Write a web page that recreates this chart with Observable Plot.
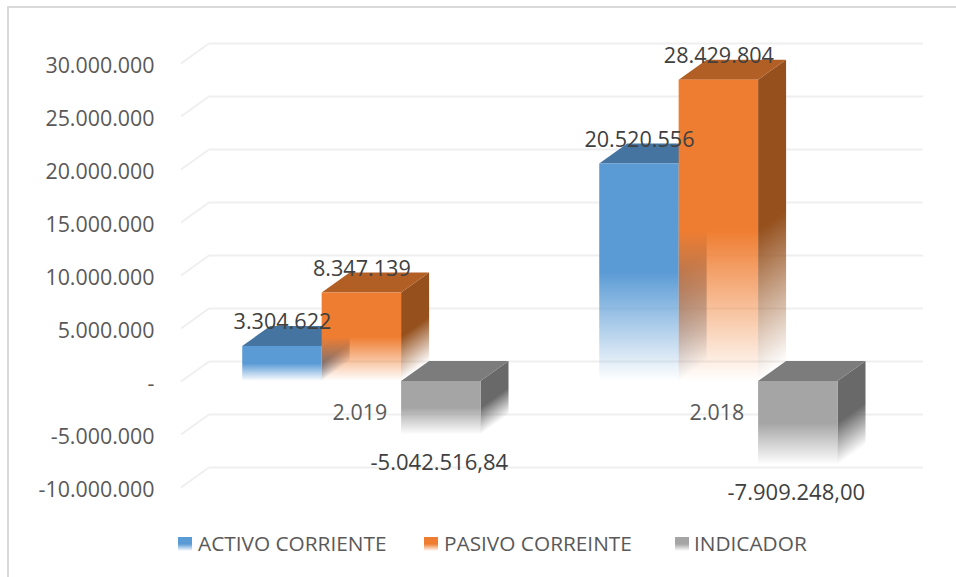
<!DOCTYPE html>
<html>
<head>
<meta charset="utf-8">
<script src="https://cdn.jsdelivr.net/npm/d3@7"></script>
<script src="https://cdn.jsdelivr.net/npm/@observablehq/plot@0.6"></script>
<style>
  html, body { margin: 0; background: #fff; }
  #frame { position: relative; width: 956px; height: 577px; overflow: hidden; font-family: "Open Sans", sans-serif; }
  #border { position: absolute; left: 7px; top: 6px; width: 960px; height: 600px; border: 2px solid #d9d9d9; box-sizing: border-box; }
  #chart { position: absolute; left: 0; top: 0; }
  #chart svg { overflow: visible; }
  #legend { position: absolute; left: 0; top: 530px; height: 27px; display: block; color: #595959; font-size: 20.8px; line-height: 27px; white-space: nowrap; }
  #legend span.item { position: absolute; top: 0; }
  #legend i { position: absolute; top: 7px; width: 14px; height: 14px; }
</style>
</head>
<body>
<div id="frame">
  <div id="border"></div>
  <div id="chart"></div>
  <div id="legend"></div>
</div>
<script>
const years = ["2.019", "2.018"];
const seriesNames = ["ACTIVO CORRIENTE", "PASIVO CORREINTE", "INDICADOR"];
const activo = [3304622, 20520556];
const pasivo = [8347139, 28429804];
const indicador = [-5042516.84, -7909248.0];
const yTicks = [-10000000, -5000000, 0, 5000000, 10000000, 15000000, 20000000, 25000000, 30000000];
const activoLabels = ["3.304.622", "20.520.556"];
const pasivoLabels = ["8.347.139", "28.429.804"];
const indicadorLabels = ["-5.042.516,84", "-7.909.248,00"];
const frontColors = ["#5b9bd5", "#ef7d31", "#a5a5a5"];
const topColors = ["#44749f", "#b25f26", "#7c7c7c"];
const sideColors = ["#3d6a95", "#95501d", "#696969"];

const DX = 28, DY = 20;
const BAR_START = 0.1715, BAR_WIDTH = 0.2225;

const rows = years.flatMap((year, g) => [
  {year, g, s: 0, series: seriesNames[0], value: activo[g], label: activoLabels[g]},
  {year, g, s: 1, series: seriesNames[1], value: pasivo[g], label: pasivoLabels[g]},
  {year, g, s: 2, series: seriesNames[2], value: indicador[g], label: indicadorLabels[g]}
]);
const left = d => d.g + BAR_START + d.s * BAR_WIDTH;
const right = d => left(d) + BAR_WIDTH;
const centre = d => left(d) + BAR_WIDTH / 2;

const fmtTick = v => v === 0 ? "-" : (v < 0 ? "-" : "") + d3.format(",")(Math.abs(v)).replace(/,/g, ".");

function gradient(parent, id, color) {
  const g = parent.append("linearGradient").attr("id", id).attr("x1", 0).attr("y1", 0).attr("x2", 0).attr("y2", 1);
  g.append("stop").attr("offset", "50%").attr("stop-color", color).attr("stop-opacity", 1);
  g.append("stop").attr("offset", "100%").attr("stop-color", color).attr("stop-opacity", 0);
}

function box3d(index, scales, values, dimensions, context, next) {
  const node = next(index, scales, values, dimensions, context);
  const root = d3.select(node);
  const defs = root.insert("defs", ":first-child");
  seriesNames.forEach((_, s) => {
    gradient(defs, `front${s}`, frontColors[s]);
    gradient(defs, `side${s}`, sideColors[s]);
  });
  root.selectAll("rect").each(function(_, k) {
    const s = rows[index[k]].s;
    const x = +this.getAttribute("x"), y = +this.getAttribute("y");
    const w = +this.getAttribute("width"), h = +this.getAttribute("height");
    const svgNS = "http://www.w3.org/2000/svg";
    const side = document.createElementNS(svgNS, "rect");
    side.setAttribute("x", 0); side.setAttribute("y", 0);
    side.setAttribute("width", DX); side.setAttribute("height", h);
    side.setAttribute("transform", `translate(${x + w},${y}) skewY(${-Math.atan(DY / DX) * 180 / Math.PI})`);
    side.setAttribute("fill", `url(#side${s})`);
    const top = document.createElementNS(svgNS, "polygon");
    top.setAttribute("points", `${x},${y} ${x + DX},${y - DY} ${x + w + DX},${y - DY} ${x + w},${y}`);
    top.setAttribute("fill", topColors[s]);
    this.parentNode.insertBefore(side, this);
    this.parentNode.insertBefore(top, this);
    this.setAttribute("fill", `url(#front${s})`);
  });
  return node;
}

function diagonal(index, scales, values, dimensions, context, next) {
  const node = next(index, scales, values, dimensions, context);
  d3.select(node).selectAll("line").each(function() {
    const x1 = +this.getAttribute("x1"), y1 = +this.getAttribute("y1");
    this.setAttribute("x2", x1 + DX);
    this.setAttribute("y2", y1 - DY);
  });
  return node;
}

const gridStyle = {stroke: "#efefef", strokeWidth: 2};

const chart = Plot.plot({
  width: 956,
  height: 525,
  marginLeft: 181,
  marginRight: 61,
  marginTop: 63,
  marginBottom: 38,
  style: {background: "transparent", fontFamily: "'Open Sans', sans-serif"},
  x: {domain: [0, years.length], axis: null, label: null},
  y: {domain: [-10000000, 30000000], axis: null, label: null},
  color: {domain: seriesNames, range: frontColors},
  marks: [
    Plot.ruleY(yTicks, {y: d => d, dx: DX, dy: -DY, ...gridStyle}),
    Plot.ruleY(yTicks, {y: d => d, render: diagonal, ...gridStyle}),
    Plot.axisY({
      anchor: "left", ticks: yTicks, tickFormat: fmtTick, tickSize: 0, tickPadding: 27, dy: 3,
      fontSize: 21.4, fill: "#595959", label: null
    }),
    Plot.rect(rows, {x1: left, x2: right, y1: () => 0, y2: "value", fill: "series", render: box3d}),
    Plot.text(rows.filter(d => d.value > 0), {
      x: centre, y: "value", text: "label", dy: -24,
      fontSize: 21.6, fill: "#404040"
    }),
    Plot.text(rows.filter(d => d.value < 0), {
      x: centre, y: "value", text: "label", dy: 28, dx: -2,
      fontSize: 22, fill: "#404040"
    }),
    Plot.text(rows.filter(d => d.s === 1), {
      x: centre, y: () => 0, text: "year", dy: 32, dx: -2,
      fontSize: 21.4, fill: "#595959"
    })
  ]
});
document.getElementById("chart").appendChild(chart);

const legend = d3.select("#legend");
const legendLeft = [178, 424, 675];
const legendText = [198, 444, 694];
seriesNames.forEach((name, s) => {
  legend.append("i")
    .style("left", legendLeft[s] + "px")
    .style("background", `linear-gradient(${frontColors[s]} 50%, #fff 100%)`);
  legend.append("span").attr("class", "item")
    .style("left", legendText[s] + "px")
    .text(name);
});
</script>
</body>
</html>
